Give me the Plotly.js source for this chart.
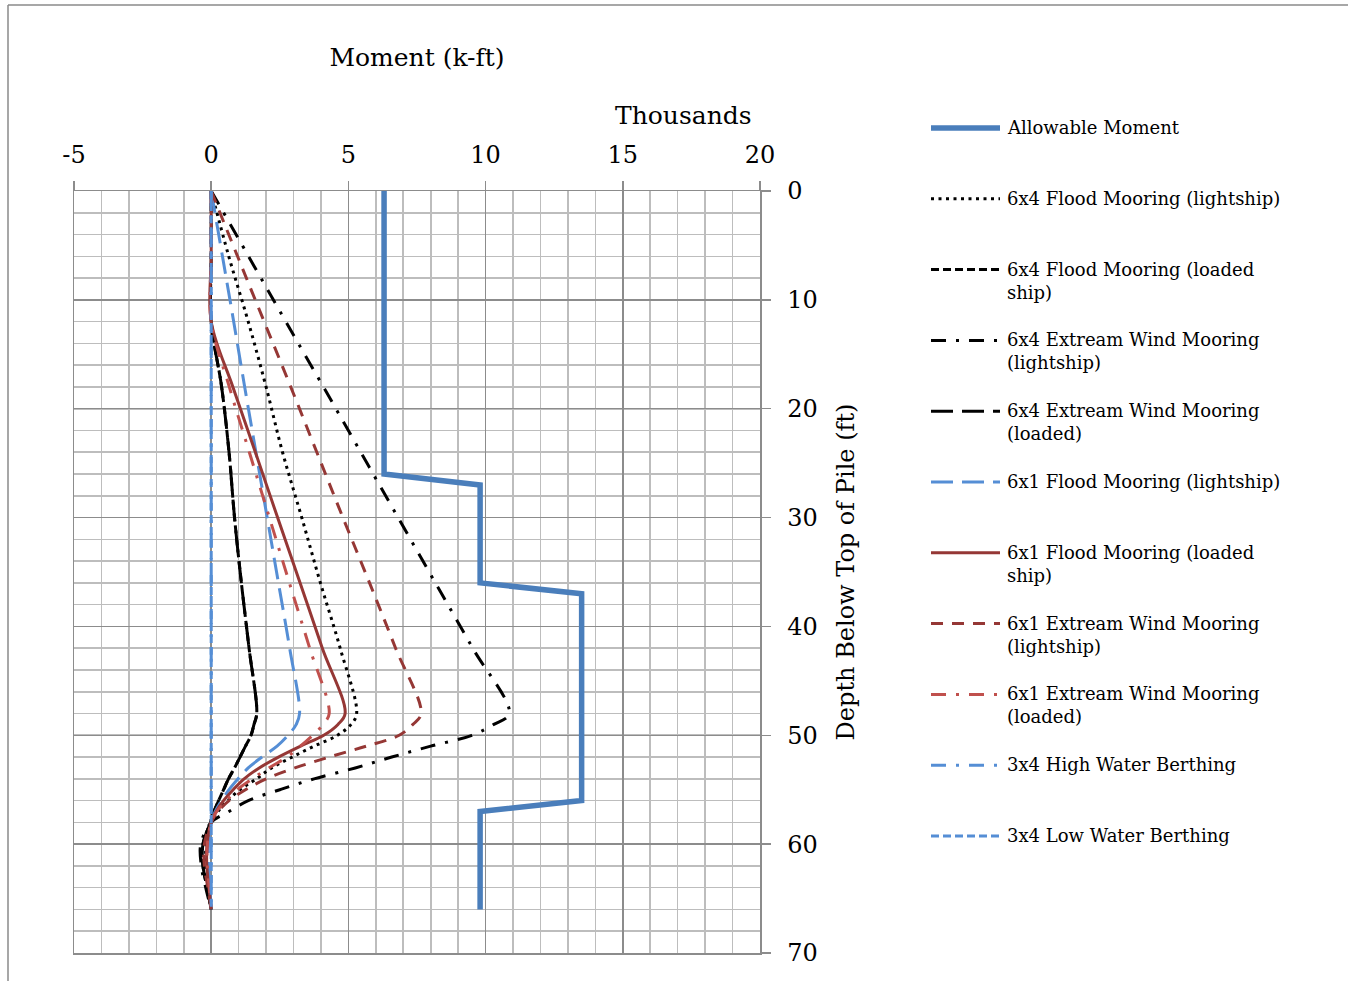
<!DOCTYPE html>
<html>
<head>
<meta charset="utf-8">
<script src="https://cdn.plot.ly/plotly-3.0.1.min.js"></script>
<style>
  html, body { margin: 0; padding: 0; background: #ffffff; }
  #chart { width: 1348px; height: 981px; }
</style>
</head>
<body>
<div id="chart"></div>
<script>
// ---------------- DATA (moment in thousands of k-ft, depth in ft) ----------------
const seriesNames = [
  "Allowable Moment",
  "6x4 Flood Mooring (lightship)",
  "6x4 Flood Mooring (loaded ship)",
  "6x4 Extream Wind Mooring (lightship)",
  "6x4 Extream Wind Mooring (loaded)",
  "6x1 Flood Mooring (lightship)",
  "6x1 Flood Mooring (loaded ship)",
  "6x1 Extream Wind Mooring (lightship)",
  "6x1 Extream Wind Mooring (loaded)",
  "3x4 High Water Berthing",
  "3x4 Low Water Berthing"
];
const legendLabels = [
  "Allowable Moment",
  "6x4 Flood Mooring (lightship)",
  "6x4 Flood Mooring (loaded<br>ship)",
  "6x4 Extream Wind Mooring<br>(lightship)",
  "6x4 Extream Wind Mooring<br>(loaded)",
  "6x1 Flood Mooring (lightship)",
  "6x1 Flood Mooring (loaded<br>ship)",
  "6x1 Extream Wind Mooring<br>(lightship)",
  "6x1 Extream Wind Mooring<br>(loaded)",
  "3x4 High Water Berthing",
  "3x4 Low Water Berthing"
];

const allowDepth  = [0, 26, 27, 36, 37, 56, 57, 66];
const allowMoment = [6.3, 6.3, 9.8, 9.8, 13.5, 13.5, 9.8, 9.8];

const depth = [0, 6, 12, 18, 24, 30, 36, 42, 48, 49, 50, 51, 52, 53, 54, 55, 56, 57, 58, 60, 62, 64, 66];

const flood64Light  = [0, 0.64, 1.35, 2.0, 2.6, 3.3, 3.98, 4.7, 5.3, 5.1, 4.6, 3.75, 2.95, 2.2, 1.65, 1.05, 0.6, 0.25, 0, -0.18, -0.2, -0.1, 0];
const flood64Loaded = [0, 0, 0, 0.38, 0.65, 0.85, 1.1, 1.38, 1.66, 1.56, 1.45, 1.25, 1.05, 0.85, 0.63, 0.45, 0.27, 0.1, -0.03, -0.3, -0.3, -0.15, 0];
const wind64Light   = [0, 1.36, 2.72, 4.09, 5.45, 6.81, 8.17, 9.53, 10.86, 10.3, 9.5, 8.0, 6.58, 5.25, 3.75, 2.5, 1.35, 0.65, 0, -0.38, -0.36, -0.2, 0];
const wind64Loaded  = [0, 0, 0, 0.38, 0.65, 0.85, 1.1, 1.38, 1.66, 1.56, 1.45, 1.25, 1.05, 0.85, 0.63, 0.45, 0.27, 0.1, -0.03, -0.3, -0.3, -0.15, 0];
const flood61Light  = [0, 0.41, 0.82, 1.22, 1.63, 2.04, 2.45, 2.86, 3.22, 3.1, 2.8, 2.4, 1.85, 1.35, 0.98, 0.65, 0.38, 0.15, 0, -0.1, -0.1, -0.05, 0];
const flood61Loaded = [0, 0, 0, 0.79, 1.61, 2.42, 3.24, 4.05, 4.88, 4.62, 4.1, 3.25, 2.45, 1.75, 1.2, 0.8, 0.45, 0.18, 0, -0.15, -0.16, -0.08, 0];
const wind61Light   = [0, 0.96, 1.93, 2.9, 3.85, 4.8, 5.77, 6.72, 7.65, 7.35, 6.85, 5.65, 4.3, 3.05, 2.0, 1.25, 0.65, 0.25, 0, -0.25, -0.25, -0.12, 0];
const wind61Loaded  = [0, 0, 0, 0.66, 1.39, 2.12, 2.85, 3.59, 4.3, 4.08, 3.7, 3.25, 2.76, 2.1, 1.5, 0.95, 0.55, 0.2, 0, -0.14, -0.14, -0.07, 0];
const hwBerthing    = [0, 0, 0, 0, 0, 0, 0, 0, 0, 0, 0, 0, 0, 0, 0, 0, 0, 0, 0, 0, 0, 0, 0];
const lwBerthing    = [0, 0, 0, 0, 0, 0, 0, 0, 0, 0, 0, 0, 0, 0, 0, 0, 0, 0, 0, 0, 0, 0, 0];

const xTickVals = [-5, 0, 5, 10, 15, 20];
const yTickVals = [0, 10, 20, 30, 40, 50, 60, 70];

// ---------------- STYLES ----------------
const BLUE = "#4A7EBB", DRED = "#953735", LRED = "#C0504D", LBLUE = "#558ED5";
const W = 3;
const styles = [
  {color: BLUE,  width: 5.5, dash: "solid"},
  {color: "#000", width: W, dash: "3px,4.5px"},
  {color: "#000", width: W, dash: "8px,4px"},
  {color: "#000", width: W, dash: "15px,10px,3px,10px"},
  {color: "#000", width: W, dash: "22px,9px"},
  {color: LBLUE, width: W, dash: "22px,9px"},
  {color: DRED,  width: W, dash: "solid"},
  {color: DRED,  width: W, dash: "12px,9px"},
  {color: LRED,  width: W, dash: "15px,10px,3px,10px"},
  {color: LBLUE, width: W, dash: "15px,10px,3px,10px"},
  {color: LBLUE, width: W, dash: "8px,4px"}
];

const seriesX = [allowMoment, flood64Light, flood64Loaded, wind64Light, wind64Loaded,
                 flood61Light, flood61Loaded, wind61Light, wind61Loaded, hwBerthing, lwBerthing];

const traces = seriesX.map((xs, i) => ({
  type: "scatter",
  mode: "lines",
  name: seriesNames[i],
  x: xs,
  y: i === 0 ? allowDepth : depth,
  line: {
    color: styles[i].color,
    width: styles[i].width,
    dash: styles[i].dash,
    shape: i === 0 ? "linear" : "spline",
    smoothing: 1
  },
  showlegend: false,
  hoverinfo: "x+y+name"
}));

// ---------------- LAYOUT ----------------
const PL = 74, PR = 760, PT = 191, PB = 953;
const fx = px => (px - PL) / (PR - PL);
const fy = py => (PB - py) / (PB - PT);

const FONT = "'DejaVu Serif', 'Liberation Serif', serif";
const GRIDMAJ = "#8C8C8C", GRIDMIN = "#BDBDBD";

const shapes = [
  // outer chart-area border (left and top edges)
  {type: "line", xref: "paper", yref: "paper", x0: fx(8), x1: fx(8), y0: fy(5), y1: fy(990), line: {color: "#8A8A8A", width: 1.5}},
  {type: "line", xref: "paper", yref: "paper", x0: fx(8), x1: fx(1360), y0: fy(5), y1: fy(5), line: {color: "#8A8A8A", width: 1.5}}
];
const annotations = [
  {text: "Thousands", xref: "paper", yref: "paper", x: fx(683), y: fy(115), xanchor: "center", yanchor: "middle",
   showarrow: false, font: {family: FONT, size: 25, color: "#000"}}
];

const rowY0 = 128, rowStep = 70.8;
legendLabels.forEach((lab, i) => {
  const ry = rowY0 + rowStep * i;
  shapes.push({type: "line", xref: "paper", yref: "paper", layer: "above",
    x0: fx(931), x1: fx(1000), y0: fy(ry), y1: fy(ry),
    line: {color: styles[i].color, width: styles[i].width, dash: styles[i].dash}});
  annotations.push({text: lab, xref: "paper", yref: "paper", x: fx(1005), y: fy(ry - 13),
    xanchor: "left", yanchor: "top", align: "left", showarrow: false,
    font: {family: FONT, size: 18, color: "#000"}});
});

const layout = {
  width: 1348, height: 981,
  margin: {l: PL, r: 1348 - PR, t: PT, b: 981 - PB, pad: 0},
  paper_bgcolor: "#fff", plot_bgcolor: "#fff",
  showlegend: false,
  font: {family: FONT, color: "#000"},
  xaxis: {
    side: "top",
    range: [-5, 20],
    tickvals: xTickVals,
    ticktext: xTickVals.map(String),
    ticks: "outside", ticklen: 9, tickwidth: 1.5, tickcolor: GRIDMAJ,
    ticklabelstandoff: 8,
    tickfont: {family: FONT, size: 24, color: "#000"},
    showgrid: true, gridcolor: GRIDMAJ, gridwidth: 1.5,
    minor: {dtick: 1, showgrid: true, gridcolor: GRIDMIN, gridwidth: 1.6, ticks: ""},
    zeroline: false,
    showline: true, linecolor: GRIDMAJ, linewidth: 1.5, mirror: true,
    title: {text: "Moment (k-ft)", font: {family: FONT, size: 25, color: "#000"}, standoff: 67}
  },
  yaxis: {
    side: "right",
    range: [70, 0],
    tickvals: yTickVals,
    ticktext: yTickVals.map(String),
    ticks: "outside", ticklen: 9, tickwidth: 1.5, tickcolor: GRIDMAJ,
    ticklabelstandoff: 12,
    tickfont: {family: FONT, size: 24, color: "#000"},
    showgrid: true, gridcolor: GRIDMAJ, gridwidth: 1.5,
    minor: {dtick: 2, showgrid: true, gridcolor: GRIDMIN, gridwidth: 1.6, ticks: ""},
    zeroline: false,
    showline: true, linecolor: GRIDMAJ, linewidth: 1.5, mirror: true,
    title: {text: "Depth Below Top of Pile (ft)", font: {family: FONT, size: 24, color: "#000"}, standoff: 20}
  },
  shapes: shapes,
  annotations: annotations
};

Plotly.newPlot("chart", traces, layout, {displayModeBar: false, staticPlot: true});
</script>
</body>
</html>
